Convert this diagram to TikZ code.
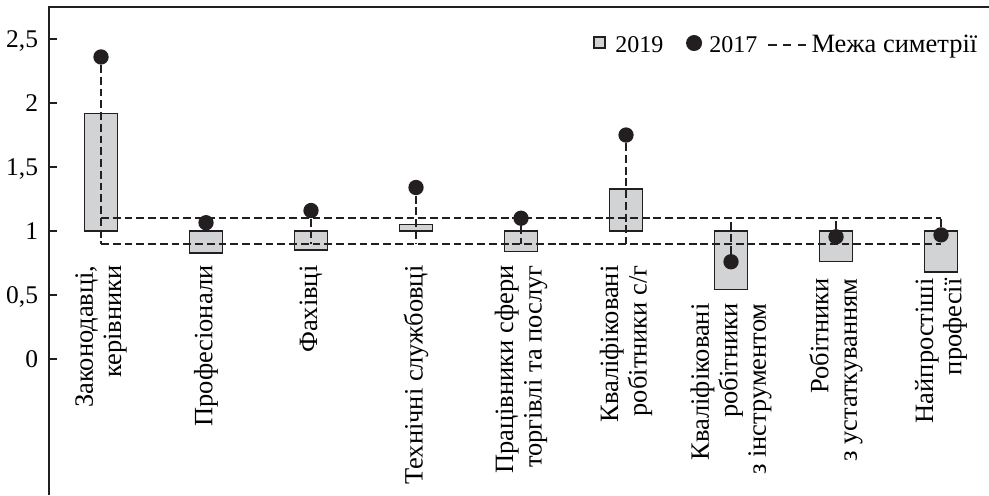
\documentclass[tikz,border=0pt]{standalone}
\usepackage{fontspec}
\setmainfont{Liberation Serif}
\definecolor{barfill}{RGB}{210,211,213}
\definecolor{ink}{RGB}{35,31,32}

\begin{document}
\begin{tikzpicture}[x=1.507cm, y=1.837cm,
        bar/.style={draw=ink, line width=0.6pt, fill=barfill},
        sym/.style={draw=ink, line width=0.6pt, dash pattern=on 3.2pt off 1.6pt},
        dot/.style={circle, fill=ink, inner sep=0pt, minimum size=2.2mm},
        ylab/.style={anchor=base east, inner sep=0pt, font=\fontsize{10.4}{12}\selectfont},
        catlab/.style={rotate=90, anchor=east, align=right, inner sep=0pt, font=\fontsize{10.8}{11.6}\selectfont},
        keytext/.style={anchor=base west, inner sep=0pt, font=\fontsize{10.8}{12}\selectfont}]
        \useasboundingbox (0.038,-1.063) rectangle (9.457,2.805);
        % axis and top frame
        \coordinate (bot) at (0.505,-1.063);
        \coordinate (topl) at (0.505,2.75);
        \coordinate (topr) at (9.457,2.75);
        \draw[ink, line width=0.7pt](bot)--(topl)--(topr);
        \draw[ink, line width=0.6pt](0.505,0)--++(3.3pt,0);
        \draw[ink, line width=0.6pt](0.505,0.5)--++(3.3pt,0);
        \draw[ink, line width=0.6pt](0.505,1)--++(3.3pt,0);
        \draw[ink, line width=0.6pt](0.505,1.5)--++(3.3pt,0);
        \draw[ink, line width=0.6pt](0.505,2)--++(3.3pt,0);
        \draw[ink, line width=0.6pt](0.505,2.5)--++(3.3pt,0);
        \node[ylab] (y0) at ([xshift=-4.3pt,yshift=-3.5pt]0.505,0) {0};
        \node[ylab] (y05) at ([xshift=-4.3pt,yshift=-3.5pt]0.505,0.5) {0,5};
        \node[ylab] (y1) at ([xshift=-4.3pt,yshift=-3.5pt]0.505,1) {1};
        \node[ylab] (y15) at ([xshift=-4.3pt,yshift=-3.5pt]0.505,1.5) {1,5};
        \node[ylab] (y2) at ([xshift=-4.3pt,yshift=-3.5pt]0.505,2) {2};
        \node[ylab] (y25) at ([xshift=-4.3pt,yshift=-3.5pt]0.505,2.5) {2,5};
        % bars 2019
        \draw[bar](0.843,1)rectangle(1.157,1.92);
        \draw[bar](1.843,0.83)rectangle(2.157,1);
        \draw[bar](2.843,0.85)rectangle(3.157,1);
        \draw[bar](3.843,1)rectangle(4.157,1.05);
        \draw[bar](4.843,0.84)rectangle(5.157,1);
        \draw[bar](5.843,1)rectangle(6.157,1.33);
        \draw[bar](6.843,0.545)rectangle(7.157,1);
        \draw[bar](7.843,0.76)rectangle(8.157,1);
        \draw[bar](8.843,0.68)rectangle(9.157,1);
        % symmetry bounds
        \coordinate (hia) at (1,1.1);
        \coordinate (hib) at (9,1.1);
        \coordinate (loa) at (1,0.9);
        \coordinate (lob) at (9,0.9);
        \draw[sym](hia)--(hib);
        \draw[sym](loa)--(lob);
        % points 2017
        \node[dot] (d1) at (1,2.36) {};
        \node[dot] (d2) at (2,1.065) {};
        \node[dot] (d3) at (3,1.16) {};
        \node[dot] (d4) at (4,1.34) {};
        \node[dot] (d5) at (5,1.10) {};
        \node[dot] (d6) at (6,1.75) {};
        \node[dot] (d7) at (7,0.76) {};
        \node[dot] (d8) at (8,0.955) {};
        \node[dot] (d9) at (9,0.97) {};
        \draw[sym](d1)--(d1|-loa);
        \draw[sym](d3)--(d3|-loa);
        \draw[sym](d4)--(d4|-loa);
        \draw[sym](d5)--(d5|-loa);
        \draw[sym](d6)--(d6|-loa);
        \draw[sym](d7)--(d7|-hia);
        \draw[sym](d8)--(d8|-hia);
        \draw[sym](d9)--(d9|-hia);
        % categories
        \node[catlab] (c1) at (1,0.734) {Законодавці,\\керівники};
        \node[catlab] (c2) at (2,0.734) {Професіонали};
        \node[catlab] (c3) at (3,0.734) {Фахівці};
        \node[catlab] (c4) at (4,0.734) {Технічні службовці};
        \node[catlab] (c5) at (5,0.734) {Працівники сфери\\торгівлі та послуг};
        \node[catlab] (c6) at (6,0.734) {Кваліфіковані\\робітники с/г};
        \node[catlab] (c7) at (7,0.4375) {Кваліфіковані\\робітники\\з інструментом};
        \node[catlab] (c8) at (8,0.633) {Робітники\\з устаткуванням};
        \node[catlab] (c9) at (9,0.633) {Найпростіші\\професії};
        % legend
        \node[draw=ink, line width=0.6pt, fill=barfill, inner sep=0pt, minimum size=1.6mm] (key19) at (5.748,2.473) {};
        \node[keytext, font=\fontsize{9.8}{12}\selectfont] (txt19) at (5.895,2.398) {2019};
        \node[dot, minimum size=2.3mm] (key17) at (6.648,2.469) {};
        \node[keytext, font=\fontsize{9.8}{12}\selectfont] (txt17) at (6.79,2.398) {2017};
        \coordinate (keya) at (7.352,2.453);
        \coordinate (keyb) at (7.733,2.453);
        \draw[sym, dash pattern=on 3.5pt off 2.6pt](keya)--(keyb);
        \node[keytext] (txtsym) at (7.762,2.398) {Межа симетрії};
    \end{tikzpicture}
\end{document}
